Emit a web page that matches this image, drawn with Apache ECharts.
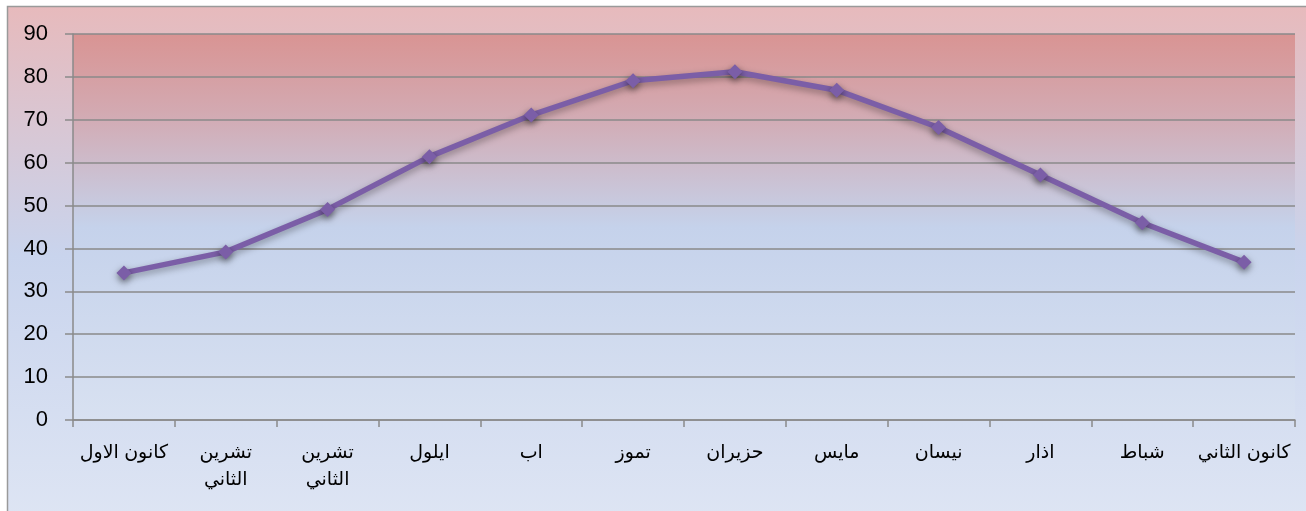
<!DOCTYPE html>
<html>
<head>
<meta charset="utf-8">
<script src="https://cdn.jsdelivr.net/npm/echarts@6/dist/echarts.min.js"></script>
<style>
html,body{margin:0;padding:0;background:#fff;}
#chart{width:1306px;height:511px;}
</style>
</head>
<body>
<div id="chart"></div>
<script>
const categories = ['كانون الاول', 'تشرين\nالثاني', 'تشرين\nالثاني', 'ايلول', 'اب', 'تموز', 'حزيران', 'مايس', 'نيسان', 'اذار', 'شباط', 'كانون الثاني'];
const values = [34.3, 39.2, 49.1, 61.4, 71.1, 79.1, 81.2, 76.9, 68.2, 57.1, 46.0, 36.8];
const yTicks = [0, 10, 20, 30, 40, 50, 60, 70, 80, 90];

const chart = echarts.init(document.getElementById('chart'), null, {renderer: 'canvas'});
const font = '"Liberation Sans", Arial, "DejaVu Sans", sans-serif';
chart.setOption({
  animation: false,
  backgroundColor: '#ffffff',
  graphic: {
    z: -10,
    elements: [{
      type: 'rect',
      z: -10,
      silent: true,
      shape: {x: 7.5, y: 6.5, width: 1320, height: 530},
      style: {
        fill: {type: 'linear', x: 0, y: 0, x2: 0, y2: 1, colorStops: [
          {offset: 0, color: '#e7babc'},
          {offset: 0.47, color: '#c9d4ed'},
          {offset: 1, color: '#dfe6f4'}
        ]},
        stroke: '#9a9a9a',
        lineWidth: 1.5
      }
    }]
  },
  grid: {
    left: 73, right: 11, top: 34, bottom: 91,
    show: true,
    borderWidth: 0,
    backgroundColor: {type: 'linear', x: 0, y: 0, x2: 0, y2: 1, colorStops: [
      {offset: 0, color: '#d99493'},
      {offset: 0.2, color: '#d3a9b1'},
      {offset: 0.5, color: '#c5d2eb'},
      {offset: 1, color: '#d8e1f1'}
    ]}
  },
  xAxis: {
    type: 'category',
    data: categories,
    boundaryGap: true,
    axisLine: {show: true, lineStyle: {color: '#8a8a8a', width: 1.5}},
    axisTick: {show: true, length: 7, alignWithLabel: false, lineStyle: {color: '#8a8a8a', width: 1.5}},
    axisLabel: {
      interval: 0, margin: 19, color: '#000', fontSize: 19, lineHeight: 27,
      fontFamily: font
    }
  },
  yAxis: {
    type: 'value',
    min: 0, max: 90, interval: 10,
    axisLine: {show: true, lineStyle: {color: '#8a8a8a', width: 1.5}},
    axisTick: {show: true, length: 8, lineStyle: {color: '#8a8a8a', width: 1.5}},
    splitLine: {show: true, lineStyle: {color: '#8a8a8a', width: 1.5}},
    axisLabel: {
      margin: 25, color: '#000', fontSize: 22, fontFamily: font,
      formatter: function (v) { return yTicks.indexOf(v) >= 0 ? String(v) : ''; }
    }
  },
  series: [{
    type: 'line',
    data: values,
    symbol: 'diamond',
    symbolSize: 15,
    lineStyle: {color: '#7b5ea7', width: 5.5, shadowColor: 'rgba(0,0,0,0.35)', shadowBlur: 7, shadowOffsetY: 3},
    itemStyle: {color: '#7b5ea7', shadowColor: 'rgba(0,0,0,0.5)', shadowBlur: 7, shadowOffsetY: 3}
  }]
});
</script>
</body>
</html>
